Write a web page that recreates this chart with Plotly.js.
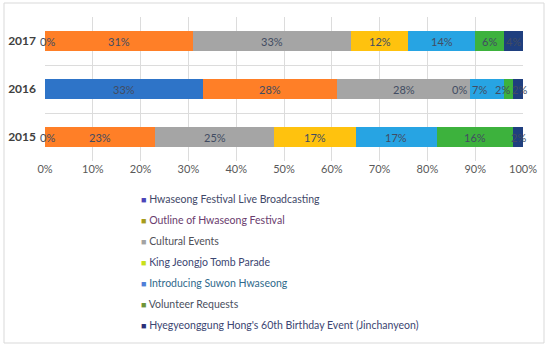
<!DOCTYPE html>
<html>
<head>
<meta charset="utf-8">
<script src="https://cdn.plot.ly/plotly-3.0.1.min.js"></script>
<style>
  html, body { margin: 0; padding: 0; background: #ffffff; }
  #chart { width: 550px; height: 345px; }
</style>
</head>
<body>
<div id="chart"></div>
<script>
// ---- data ----
const years = ["2015", "2016", "2017"];
const seriesNames = [
  "Hwaseong Festival Live Broadcasting",
  "Outline of Hwaseong Festival",
  "Cultural Events",
  "King Jeongjo Tomb Parade",
  "Introducing Suwon Hwaseong",
  "Volunteer Requests",
  "Hyegyeonggung Hong's 60th Birthday Event (Jinchanyeon)"
];
const liveBroadcasting = [0, 33, 0];
const outlineFestival  = [23, 28, 31];
const culturalEvents   = [25, 28, 33];
const kingJeongjo      = [17, 0, 12];
const introSuwon       = [17, 7, 14];
const volunteer        = [16, 2, 6];
const hyegyeonggung    = [2, 2, 4];
const xTicks = [0, 10, 20, 30, 40, 50, 60, 70, 80, 90, 100];

// ---- styles ----
const seriesValues = [liveBroadcasting, outlineFestival, culturalEvents, kingJeongjo, introSuwon, volunteer, hyegyeonggung];
const barColors = ["#2E74C8", "#FF7F27", "#A5A5A5", "#FFC20E", "#27A4E3", "#3DB23D", "#1F3F7F"];
const legendMarkerColors = ["#4B45B8", "#A79C1C", "#A3A3A3", "#C9E01A", "#4F7FD8", "#6E9438", "#2B2F78"];
const legendTextColors = ["#3F4868", "#6A3C6E", "#505058", "#3C4672", "#2F6A8C", "#4A5060", "#3C4672"];
const labelColor = "#424C62";
const fontFam = "Lato, 'Open Sans', sans-serif";
// pixel nudges for crowded data labels (style only), [series][year]
const labelShift = [
  [2, 0, 2],
  [0, 0, 0],
  [0, 0, 0],
  [0, -11, 0],
  [0, -8, 0],
  [0, -6, 0],
  [0, 1, 0]
];

const W = 550, H = 345;
const mL = 45, mR = 27, mT = 17, mB = 184;
const pw = W - mL - mR, ph = H - mT - mB;

const traces = seriesNames.map((name, i) => ({
  type: "bar",
  orientation: "h",
  name: name,
  y: years,
  x: seriesValues[i],
  marker: { color: barColors[i], line: { width: 0 } },
  showlegend: false,
  hoverinfo: "none"
}));

// data labels (category index used as y on the category axis)
const annotations = [];
years.forEach((yr, j) => {
  let cum = 0;
  seriesValues.forEach((vals, i) => {
    const v = vals[j];
    annotations.push({
      x: cum + v / 2, y: j, xref: "x", yref: "y",
      xshift: labelShift[i][j],
      text: v + "%", showarrow: false,
      font: { family: fontFam, size: 11, color: labelColor }
    });
    cum += v;
  });
});

const legTop = 199, legStep = 21, legX = 139;
seriesNames.forEach((name, i) => {
  const py = legTop + i * legStep;
  annotations.push({
    xref: "paper", yref: "paper",
    x: (legX - mL) / pw, y: (mT + ph - py) / ph,
    xanchor: "left", yanchor: "middle", showarrow: false, align: "left",
    text: '<span style="color:' + legendMarkerColors[i] + ';font-size:9px">■</span> ' +
          '<span style="color:' + legendTextColors[i] + '">' + name + '</span>',
    font: { family: fontFam, size: 10.5, color: legendTextColors[i] }
  });
});

const fx0 = (4 - mL) / pw, fx1 = (544 - mL) / pw;
const fy0 = (mT + ph - 343) / ph, fy1 = (mT + ph - 3) / ph;

const layout = {
  width: W, height: H,
  margin: { l: mL, r: mR, t: mT, b: mB, pad: 0 },
  paper_bgcolor: "#ffffff",
  plot_bgcolor: "#ffffff",
  barmode: "stack",
  bargap: 0.59,
  showlegend: false,
  font: { family: fontFam, size: 11, color: "#595959" },
  xaxis: {
    range: [0, 100],
    tickvals: xTicks,
    ticktext: xTicks.map(t => t + "%"),
    showgrid: true, gridcolor: "#DCDCDC", gridwidth: 1,
    zeroline: false, showline: false, ticks: "",
    tickfont: { family: fontFam, size: 11, color: "#595959" },
    fixedrange: true
  },
  yaxis: {
    type: "category",
    categoryorder: "array", categoryarray: years,
    range: [-0.5, years.length - 0.5],
    tickson: "boundaries",
    ticklabelstandoff: 8,
    showgrid: true, gridcolor: "#DCDCDC", gridwidth: 1,
    zeroline: false, showline: false, ticks: "",
    tickfont: { family: fontFam, size: 12, color: "#404040", weight: "bold" },
    fixedrange: true
  },
  annotations: annotations,
  shapes: [{
    type: "rect", xref: "paper", yref: "paper",
    x0: fx0, x1: fx1, y0: fy0, y1: fy1,
    line: { color: "#D9D9D9", width: 1 }, fillcolor: "rgba(0,0,0,0)",
    layer: "below"
  }]
};

Plotly.newPlot("chart", traces, layout, { staticPlot: true, displayModeBar: false });
</script>
</body>
</html>
